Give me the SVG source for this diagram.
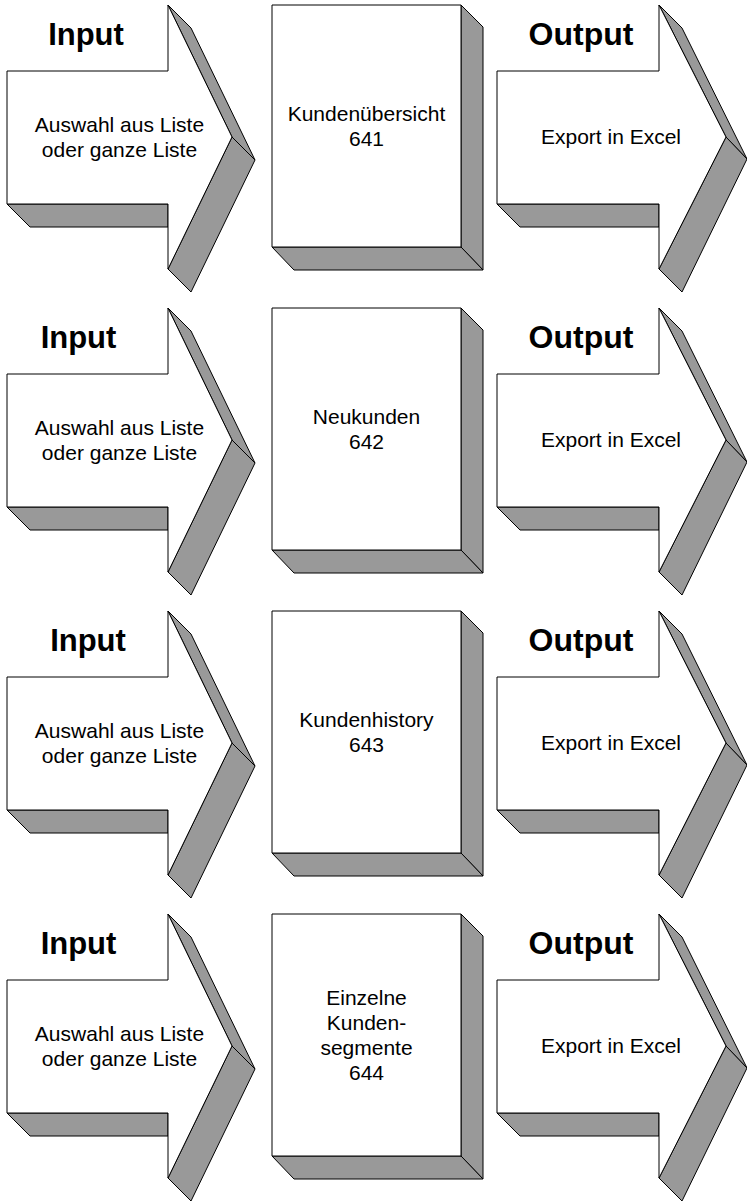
<svg xmlns="http://www.w3.org/2000/svg" width="747" height="1202" viewBox="0 0 747 1202">
<style>
.g{fill:#999999;stroke:#000;stroke-width:1;stroke-linejoin:round}
.f{fill:#ffffff;stroke:#000;stroke-width:1;stroke-linejoin:round}
.t{font-family:"Liberation Sans",Arial,sans-serif;font-size:21px;fill:#000;text-anchor:middle}
.h{font-family:"Liberation Sans",Arial,sans-serif;font-size:31px;font-weight:bold;fill:#000;text-anchor:middle}
.ho{font-family:"Liberation Sans",Arial,sans-serif;font-size:32px;font-weight:bold;fill:#000;text-anchor:middle}
</style>
<defs>
<g id="inArrow">
<polygon class="g" points="168,5 191,28 255,160 232,137"/>
<polygon class="g" points="232,137 255,160 191,292 168,269"/>
<polygon class="g" points="7,204 30,227 168,227 168,204"/>
<polygon class="f" points="7,71 168,71 168,5 232,137 168,269 168,204 7,204"/>
</g>
<g id="outArrow">
<polygon class="g" points="659,5 682,28 747,159 726,137"/>
<polygon class="g" points="726,137 747,159 682,292 659,269"/>
<polygon class="g" points="497,204 520,227 659,227 659,204"/>
<polygon class="f" points="497,71 659,71 659,5 726,137 659,269 659,204 497,204"/>
</g>
<g id="box3d">
<polygon class="g" points="461,5 483,27 483,270 461,247"/>
<polygon class="g" points="272,247 294,270 483,270 461,247"/>
<rect class="f" x="272" y="5" width="189" height="242"/>
</g>
</defs>

<!-- Row 1 -->
<g id="input1">
<use href="#inArrow"/>
<text class="h" x="86" y="45">Input</text>
<text class="t" x="119.5" y="131.5">Auswahl aus Liste</text>
<text class="t" x="119.5" y="156.5">oder ganze Liste</text>
</g>
<g id="process1">
<use href="#box3d"/>
<text class="t" x="366.5" y="120.5">Kundenübersicht</text>
<text class="t" x="366.5" y="145.5">641</text>
</g>
<g id="output1">
<use href="#outArrow"/>
<text class="ho" x="581" y="45">Output</text>
<text class="t" x="611" y="144">Export in Excel</text>
</g>

<!-- Row 2 -->
<g id="input2" transform="translate(0,303)">
<use href="#inArrow"/>
<text class="h" x="78.5" y="45">Input</text>
<text class="t" x="119.5" y="131.5">Auswahl aus Liste</text>
<text class="t" x="119.5" y="156.5">oder ganze Liste</text>
</g>
<g id="process2" transform="translate(0,303)">
<use href="#box3d"/>
<text class="t" x="366.5" y="120.5">Neukunden</text>
<text class="t" x="366.5" y="145.5">642</text>
</g>
<g id="output2" transform="translate(0,303)">
<use href="#outArrow"/>
<text class="ho" x="581" y="45">Output</text>
<text class="t" x="611" y="144">Export in Excel</text>
</g>

<!-- Row 3 -->
<g id="input3" transform="translate(0,606)">
<use href="#inArrow"/>
<text class="h" x="88" y="45">Input</text>
<text class="t" x="119.5" y="131.5">Auswahl aus Liste</text>
<text class="t" x="119.5" y="156.5">oder ganze Liste</text>
</g>
<g id="process3" transform="translate(0,606)">
<use href="#box3d"/>
<text class="t" x="366.5" y="120.5">Kundenhistory</text>
<text class="t" x="366.5" y="145.5">643</text>
</g>
<g id="output3" transform="translate(0,606)">
<use href="#outArrow"/>
<text class="ho" x="581" y="45">Output</text>
<text class="t" x="611" y="144">Export in Excel</text>
</g>

<!-- Row 4 -->
<g id="input4" transform="translate(0,909)">
<use href="#inArrow"/>
<text class="h" x="78.5" y="45">Input</text>
<text class="t" x="119.5" y="131.5">Auswahl aus Liste</text>
<text class="t" x="119.5" y="156.5">oder ganze Liste</text>
</g>
<g id="process4" transform="translate(0,909)">
<use href="#box3d"/>
<text class="t" x="366.5" y="95.5">Einzelne</text>
<text class="t" x="366.5" y="120.5">Kunden-</text>
<text class="t" x="366.5" y="145.5">segmente</text>
<text class="t" x="366.5" y="170.5">644</text>
</g>
<g id="output4" transform="translate(0,909)">
<use href="#outArrow"/>
<text class="ho" x="581" y="45">Output</text>
<text class="t" x="611" y="144">Export in Excel</text>
</g>

<g id="connectors"/>
</svg>
